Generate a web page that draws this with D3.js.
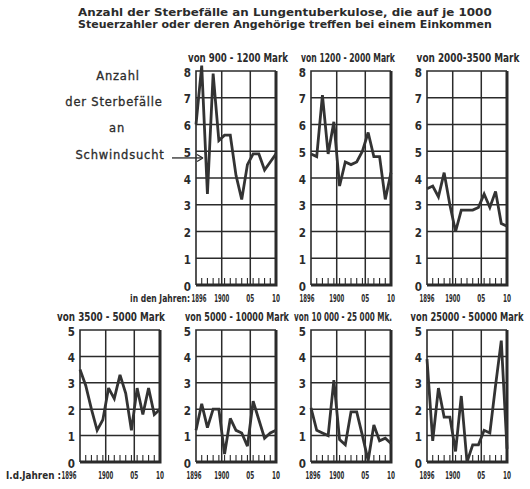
<!DOCTYPE html>
<html>
<head>
<meta charset="utf-8">
<script src="https://cdn.jsdelivr.net/npm/d3@7"></script>
<style>
  body { margin: 0; background: #fff; }
  text { fill: #2b2b2b; }
</style>
</head>
<body>
<svg id="chart"></svg>
<script>
const width = 530, height = 489;

// years covered by each small chart
const years = [1896, 1897, 1898, 1899, 1900, 1901, 1902, 1903, 1904, 1905, 1906, 1907, 1908, 1909, 1910];

// deaths per 1000 taxpayers, by income class
const income900 = [6.0, 8.2, 3.4, 7.9, 5.4, 5.6, 5.6, 4.1, 3.2, 4.5, 4.9, 4.9, 4.3, 4.6, 4.9];
const income1200 = [4.9, 4.8, 7.1, 4.9, 6.1, 3.7, 4.6, 4.5, 4.6, 5.0, 5.7, 4.8, 4.8, 3.2, 4.2];
const income2000 = [3.6, 3.7, 3.3, 4.2, 3.0, 2.0, 2.8, 2.8, 2.8, 2.9, 3.4, 2.9, 3.5, 2.3, 2.2];
const income3500 = [3.5, 2.9, 2.0, 1.2, 1.6, 2.8, 2.4, 3.3, 2.6, 1.2, 2.8, 1.8, 2.8, 1.8, 2.0];
const income5000 = [1.2, 2.2, 1.3, 2.0, 2.0, 0.3, 1.65, 1.2, 1.1, 0.6, 2.3, 1.6, 0.9, 1.1, 1.2];
const income10000 = [2.05, 1.2, 1.1, 1.0, 3.1, 0.85, 0.65, 1.9, 1.9, 1.0, 0.05, 1.4, 0.8, 0.9, 0.7];
const income25000 = [3.9, 0.8, 2.8, 1.7, 1.7, 0.4, 2.5, 0.0, 0.65, 0.65, 1.2, 1.1, 2.9, 4.6, 0.5];

const panelTitles = [
    "von 900 - 1200 Mark", "von 1200 - 2000 Mark", "von 2000-3500 Mark",
    "von 3500 - 5000 Mark", "von 5000 - 10000 Mark", "von 10 000 - 25 000 Mk.", "von 25000 - 50000 Mark"
];
const seriesList = [income900, income1200, income2000, income3500, income5000, income10000, income25000];

const yTicksTop = [0, 1, 2, 3, 4, 5, 6, 7, 8];
const yTicksBottom = [0, 1, 2, 3, 4, 5];
const xLabelYears = [1896, 1900.5, 1905.5, 1910];
const xLabelText = ["1896", "1900", "05", "10"];
const gridYears = [1900.5, 1905.5];

const titleLines = [
    "Anzahl der Sterbefälle an Lungentuberkulose, die auf je 1000",
    "Steuerzahler oder deren Angehörige treffen bei einem Einkommen"
];
const sideLines = ["Anzahl", "der Sterbefälle", "an", "Schwindsucht"];

const condensed = "'DejaVu Sans Condensed','DejaVu Sans',sans-serif";
const ink = "#2b2b2b";

const svg = d3.select("#chart")
    .attr("width", width)
    .attr("height", height)
    .attr("viewBox", `0 0 ${width} ${height}`);

svg.append("rect").attr("width", width).attr("height", height).attr("fill", "#fff");

// squeeze a text horizontally to a given width (old print is very narrow)
function squeeze(sel, targetW) {
    sel.each(function(d, i) {
        const t = d3.select(this);
        const w = typeof targetW === "function" ? targetW(d, i) : targetW;
        const natural = this.getComputedTextLength();
        const x = +t.attr("x"), y = +t.attr("y");
        t.attr("x", 0).attr("y", 0)
            .attr("transform", `translate(${x},${y}) scale(${w / natural},1)`);
    });
}

// main heading
svg.selectAll("text.heading")
    .data(titleLines)
    .enter()
    .append("text")
    .attr("class", "heading")
    .attr("x", 78)
    .attr("y", (d, i) => 16 + i * 11.5)
    .style("font-family", "'DejaVu Sans',sans-serif")
    .style("font-weight", "bold")
    .style("font-size", "10.5px")
    .text(d => d)
    .call(squeeze, 414);

// layout of the seven little charts
const colLeft = [80, 196, 311, 427];
const panelW = 80;
const rows = [
    { top: 71, bottom: 285, max: 8, ticks: yTicksTop },
    { top: 330, bottom: 462, max: 5, ticks: yTicksBottom }
];
const panels = seriesList.map((values, i) => ({
    title: panelTitles[i],
    values: values,
    row: i < 3 ? 0 : 1,
    col: i < 3 ? i + 1 : i - 3
}));
const titleWidths = [100, 94, 103, 108, 104, 98, 113];
const titleShift = [2, -3, 1, -9, 1, -8, 0];
const firstLabelShift = [3, -4, 0, -11, -2, 2, 0];

let panel1Scales = null;

panels.forEach((p, i) => {
    const r = rows[p.row];
    const left = colLeft[p.col];
    const x = d3.scaleLinear().domain([1896, 1910]).range([left, left + panelW]);
    const y = d3.scaleLinear().domain([0, r.max]).range([r.bottom, r.top]);
    if (i === 0) panel1Scales = { x, y };

    const g = svg.append("g");

    // horizontal grid
    g.selectAll("line.hgrid")
        .data(r.ticks.filter(t => t > 0 && t < r.max))
        .enter()
        .append("line")
        .attr("x1", x(1896)).attr("x2", x(1910))
        .attr("y1", d => y(d)).attr("y2", d => y(d))
        .attr("stroke", ink).attr("stroke-width", 1.5);

    // vertical grid
    g.selectAll("line.vgrid")
        .data(gridYears)
        .enter()
        .append("line")
        .attr("x1", d => x(d)).attr("x2", d => x(d))
        .attr("y1", y(r.max)).attr("y2", y(0))
        .attr("stroke", ink).attr("stroke-width", 1.5);

    // small year ticks along the bottom
    g.selectAll("line.yeartick")
        .data(years.slice(1, -1))
        .enter()
        .append("line")
        .attr("x1", d => x(d)).attr("x2", d => x(d))
        .attr("y1", y(0)).attr("y2", y(0) - 7)
        .attr("stroke", ink).attr("stroke-width", 1.1);

    // frame: thin left/top, heavy right/bottom
    g.append("path")
        .attr("d", `M${x(1910)},${y(r.max)}H${x(1896)}V${y(0)}`)
        .attr("fill", "none").attr("stroke", ink).attr("stroke-width", 1.6);
    g.append("path")
        .attr("d", `M${x(1896)},${y(0)}H${x(1910)}V${y(r.max)}`)
        .attr("fill", "none").attr("stroke", ink).attr("stroke-width", 3);

    // the series
    const line = d3.line()
        .x((d, j) => x(years[j]))
        .y(d => y(d));
    g.append("path")
        .datum(p.values)
        .attr("d", line)
        .attr("fill", "none")
        .attr("stroke", "#333")
        .attr("stroke-width", 2.8)
        .attr("stroke-linejoin", "miter")
        .attr("stroke-miterlimit", 3);

    // y labels
    const yAxis = g.append("g")
        .attr("transform", `translate(${x(1896) - 3},1.5)`)
        .call(d3.axisLeft(y).tickValues(r.ticks).tickSize(0).tickPadding(2).tickFormat(d3.format("d")));
    yAxis.select(".domain").remove();
    yAxis.selectAll("text")
        .style("font-family", condensed)
        .style("font-weight", "bold")
        .style("font-size", "11.5px")
        .attr("fill", ink);

    // x labels
    g.selectAll("text.xlab")
        .data(xLabelYears)
        .enter()
        .append("text")
        .attr("x", (d, j) => x(d) + (j === 0 ? firstLabelShift[i] : 0))
        .attr("y", y(0) + 17)
        .attr("text-anchor", "middle")
        .style("font-family", condensed)
        .style("font-weight", "bold")
        .style("font-size", "10.5px")
        .text((d, j) => xLabelText[j])
        .call(squeeze, (d, j) => xLabelText[j].length > 2 ? 15 : 8);

    // panel title
    g.append("text")
        .attr("x", x(1903) + titleShift[i])
        .attr("y", y(r.max) - 9)
        .attr("text-anchor", "middle")
        .style("font-family", condensed)
        .style("font-weight", "bold")
        .style("font-size", "11.5px")
        .text(p.title)
        .call(squeeze, titleWidths[i]);
});

// "in den Jahren" labels
svg.append("text")
    .attr("x", colLeft[1] - 6).attr("y", rows[0].bottom + 17)
    .attr("text-anchor", "end")
    .style("font-family", condensed).style("font-weight", "bold").style("font-size", "10.5px")
    .text("in den Jahren:")
    .call(squeeze, 60);
svg.append("text")
    .attr("x", colLeft[0] - 19).attr("y", rows[1].bottom + 17)
    .attr("text-anchor", "end")
    .style("font-family", condensed).style("font-weight", "bold").style("font-size", "11px")
    .text("I.d.Jahren :")
    .call(squeeze, 55);

// side annotation
const sideY = [80, 106, 132, 159];
const sideX = [118, 114, 117, 120];
svg.selectAll("text.side")
    .data(sideLines)
    .enter()
    .append("text")
    .attr("x", (d, i) => sideX[i])
    .attr("y", (d, i) => sideY[i])
    .attr("text-anchor", "middle")
    .attr("letter-spacing", "0.8px")
    .style("font-family", "'DejaVu Sans',sans-serif")
    .style("font-size", "11.5px")
    .style("stroke", ink)
    .style("stroke-width", 0.3)
    .text(d => d);

// arrow to the 900-1200 chart
const arrowY = panel1Scales.y(4.75);
svg.append("line")
    .attr("x1", 172).attr("x2", panel1Scales.x(1896) + 6)
    .attr("y1", arrowY).attr("y2", arrowY)
    .attr("stroke", ink).attr("stroke-width", 1.3);
svg.append("path")
    .attr("d", `M${panel1Scales.x(1896) + 7},${arrowY}l-6,-3.5M${panel1Scales.x(1896) + 7},${arrowY}l-6,3.5`)
    .attr("stroke", ink).attr("stroke-width", 1.3).attr("fill", "none");
</script>
</body>
</html>
